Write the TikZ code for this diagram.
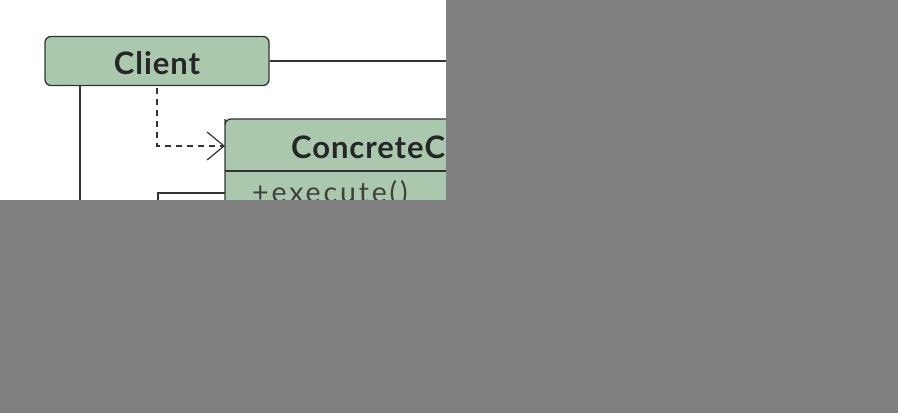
\documentclass[tikz,border=0pt]{standalone}
\usepackage{fontspec}
\setmainfont{Lato}
\newfontfamily\titlefont[LetterSpace=3]{Lato}
\newfontfamily\opfont[LetterSpace=10]{Lato}
\usetikzlibrary{arrows.meta}
\definecolor{boxfill}{HTML}{A9C8AD}
\definecolor{linec}{HTML}{333333}
\definecolor{maskgray}{HTML}{808080}
\tikzset{
  classbox/.style={draw=linec, line width=1.3pt, fill=boxfill, rounded corners=6pt, inner sep=0pt},
  conn/.style={draw=linec, line width=1.2pt},
  depend/.style={conn, dash pattern=on 6pt off 5pt, -{Straight Barb[length=17pt,width=28pt,line width=1.2pt]}},
  titletext/.style={font=\titlefont\bfseries\fontsize{31}{32}\selectfont, text=black!85, inner sep=0pt},
}
\begin{document}
\begin{tikzpicture}[x=1pt,y=-1pt]
\useasboundingbox (0,0) rectangle (898,413);
\fill[white] (0,0) rectangle (898,413);
% Client
\node[classbox, minimum width=224pt, minimum height=49pt] (client) at (157,61) {};
\node[titletext, anchor=base] (clientlbl) at (157,74) {Client};
% ConcreteCommand box
\path[classbox] (225,260) -- (225,125) [rounded corners=6pt] -- (225,119) -- (700,119) -- (700,260) [sharp corners] -- cycle;
\draw[linec, line width=1.2pt] (225,171) -- (700,171);
\node[titletext, anchor=base west] (cctitle) at (291,158) {ConcreteCommand};
\node[anchor=base west, font=\opfont\fontsize{28.5}{29}\selectfont, text=black!75, inner sep=0pt] (ccop) at (252,202) {+execute()};
\coordinate (ccleft) at (225,146);
\coordinate (ccleft2) at (225,193);
% connectors
\coordinate (dstart) at (157,88);
\draw[depend] (dstart) |- (ccleft);
\coordinate (rend) at (600,61);
\draw[conn] (client.east) -- (rend);
\coordinate (vend) at (80,300);
\draw[conn] (client.south -| vend) -- (vend);
\coordinate (hbend) at (158,300);
\draw[conn] (ccleft2) -| (hbend);
% masks
\fill[maskgray] (446,0) rectangle (898,200);
\fill[maskgray] (0,200) rectangle (898,413);
\end{tikzpicture}
\end{document}
